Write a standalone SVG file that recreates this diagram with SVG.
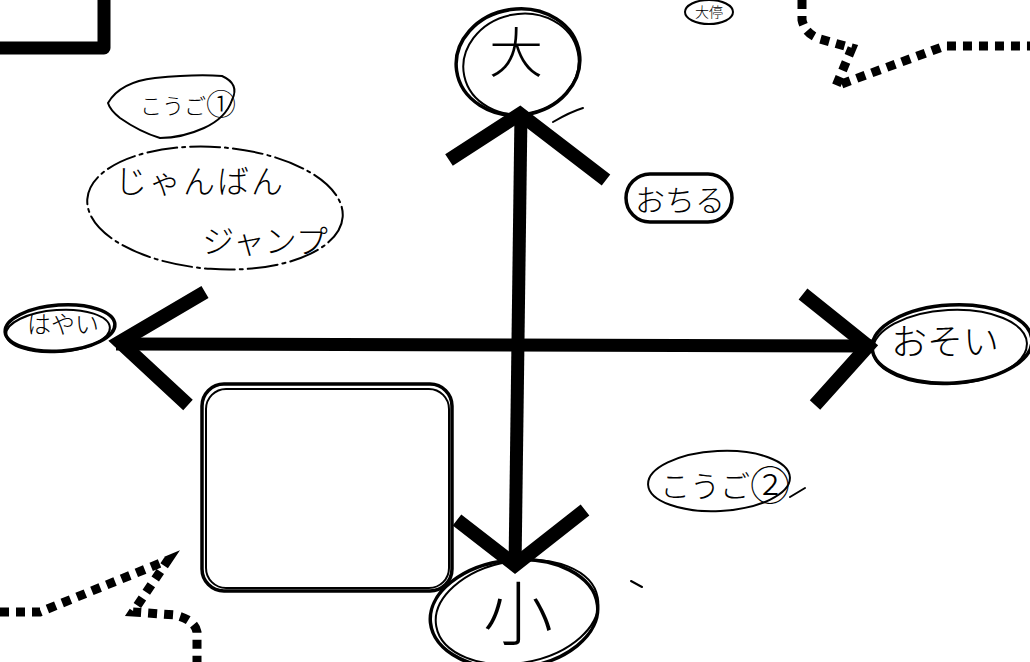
<svg xmlns="http://www.w3.org/2000/svg" width="1030" height="662" viewBox="0 0 1030 662">
<style>
.ink{fill:none;stroke:#000;stroke-linecap:round;stroke-linejoin:round}
.thin{stroke-width:2}
.med{stroke-width:3.5}
.axis{fill:none;stroke:#000;stroke-width:13;stroke-linecap:butt}
.chev{fill:none;stroke:#000;stroke-width:14;stroke-linecap:butt;stroke-linejoin:miter}
.dots{fill:none;stroke:#000;stroke-width:9;stroke-dasharray:9 7}
.t{font-family:"Noto Sans CJK JP","Noto Sans",sans-serif;fill:#000;font-weight:300}
</style>
<rect width="1030" height="662" fill="#fff"/>

<g id="box-topleft">
<path class="ink" style="stroke-width:13;stroke-linecap:butt" d="M0,48 H104 V0"/>
</g>

<g id="callout-topright">
<path class="dots" d="M802,0 V20 Q805,34 820,39 L852,48 L836,86 L945,46 H1030"/>
<ellipse class="ink thin" cx="709" cy="12" rx="24" ry="12"/>
<text class="t" x="709" y="17" font-size="14" text-anchor="middle">大停</text>
</g>

<g id="callout-bottomleft">
<path class="dots" d="M0,612 H40 L168,560 L133,612 L175,615 Q195,620 197,632 V662"/>
</g>

<g id="connectors">
<path class="axis" d="M521,112 L515,568"/>
<path class="axis" d="M116,344 L874,346"/>
<path class="chev" d="M449,160 L520,114 L606,180"/>
<path class="chev" d="M205,292 L120,342 L188,405"/>
<path class="chev" d="M803,294 L868,346 L815,405"/>
<path class="chev" d="M457,520 L515,565 L585,510"/>
</g>

<g id="node-big">
<ellipse class="ink med" cx="518" cy="62" rx="62" ry="53" transform="rotate(-8 518 62)" fill="#fff"/>
<ellipse class="ink thin" cx="521" cy="64" rx="58" ry="50" transform="rotate(-12 521 64)"/>
<text class="t" x="516" y="73" font-size="54" text-anchor="middle">大</text>
<path class="ink thin" d="M553,122 Q570,112 583,108"/>
</g>

<g id="node-fast">
<ellipse class="ink med" cx="60" cy="328" rx="55" ry="23" transform="rotate(-4 60 328)" fill="#fff"/>
<ellipse class="ink thin" cx="58" cy="331" rx="52" ry="21" transform="rotate(-4 58 331)"/>
<text class="t" x="63" y="333" font-size="24" text-anchor="middle">はやい</text>
</g>

<g id="node-slow">
<ellipse class="ink med" cx="952" cy="344" rx="80" ry="39" transform="rotate(-3 952 344)" fill="#fff"/>
<ellipse class="ink thin" cx="950" cy="347" rx="77" ry="37" transform="rotate(-3 950 347)"/>
<text class="t" x="945" y="355" font-size="36" text-anchor="middle">おそい</text>
</g>

<g id="node-small">
<ellipse class="ink med" cx="514" cy="614" rx="84" ry="54" transform="rotate(-6 514 614)" fill="#fff"/>
<ellipse class="ink thin" cx="517" cy="612" rx="82" ry="51" transform="rotate(-10 517 612)"/>
<text class="t" x="518" y="640" font-size="70" text-anchor="middle">小</text>
</g>

<g id="label-fall">
<rect class="ink med" x="626" y="174" width="106" height="48" rx="24"/>
<text class="t" x="680" y="211" font-size="30" text-anchor="middle">おちる</text>
</g>

<g id="label-alt1">
<path class="ink thin" d="M108,103 Q120,82 155,78 Q195,74 222,76 Q240,84 232,100 Q226,118 204,128 Q182,138 160,138 Q140,132 120,118 Q110,110 108,103 Z"/>
<text class="t" x="140" y="114" font-size="22">こうご<tspan font-size="30" dy="1">①</tspan></text>
</g>

<g id="label-jump">
<ellipse class="ink thin" cx="215" cy="208" rx="128" ry="61" transform="rotate(4 215 208)" stroke-dasharray="30 5 3 5"/>
<text class="t" x="200" y="193" font-size="32" text-anchor="middle" letter-spacing="2">じゃんばん</text>
<text class="t" x="265" y="253" font-size="32" text-anchor="middle">ジャンプ</text>
</g>

<g id="label-alt2">
<ellipse class="ink thin" cx="719" cy="481" rx="71" ry="30" transform="rotate(-3 719 481)"/>
<text class="t" x="660" y="497" font-size="30">こうご<tspan font-size="40" dy="3">②</tspan></text>
<path class="ink thin" d="M790,497 L805,488"/>
</g>

<g id="empty-box">
<rect class="ink med" x="202" y="384" width="250" height="207" rx="22"/>
<rect class="ink thin" x="206" y="389" width="243" height="199" rx="20"/>
</g>

<path class="ink thin" d="M631,581 L642,587"/>
</svg>
